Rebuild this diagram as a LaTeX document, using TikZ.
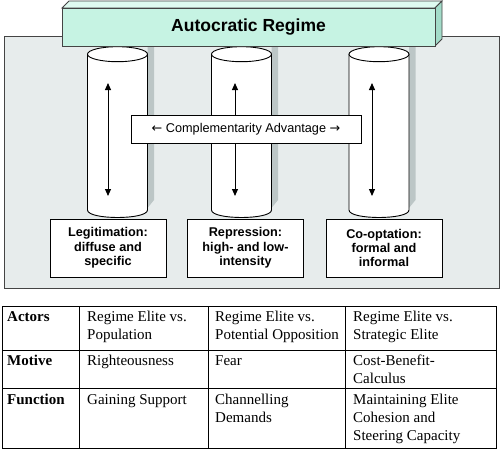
\documentclass[tikz,border=0pt]{standalone}
\usepackage{fontspec}
\setmainfont{Liberation Serif}
\setsansfont{Liberation Sans}
\newfontfamily\arrowfont{DejaVu Sans}
\usetikzlibrary{arrows.meta}
\definecolor{bgc}{HTML}{E7ECEC}
\definecolor{shadowc}{HTML}{BCC6C6}
\definecolor{beamfront}{HTML}{C6F3E3}
\definecolor{beamtop}{HTML}{DFFAF0}
\definecolor{beamside}{HTML}{A3DCC9}
\definecolor{framec}{HTML}{444444}
\tikzset{
  boxline/.style={draw=black, line width=0.9pt},
  labelbox/.style={boxline, fill=white, minimum width=116pt, minimum height=58pt, align=center, inner sep=0pt,
    font=\fontsize{12.7}{14.3}\selectfont\sffamily\bfseries},
  compbox/.style={boxline, fill=white, minimum width=230pt, minimum height=27.7pt, inner sep=0pt,
    font=\fontsize{12.7}{15}\selectfont\sffamily},
  dblarrow/.style={line width=1pt, {Triangle[length=7pt,width=6pt]}-{Triangle[length=7pt,width=6pt]}},
  cell/.style={anchor=north west, align=left, inner sep=0pt, font=\fontsize{15}{18}\selectfont\rmfamily},
  headcell/.style={cell, font=\fontsize{15}{18}\selectfont\rmfamily\bfseries},
  tabline/.style={draw=black, line width=0.9pt},
}
\begin{document}
\begin{tikzpicture}[x=1pt,y=-1pt]
\useasboundingbox (0,0) rectangle (500,450);
% background panel
\draw[fill=bgc, draw=framec, line width=0.9pt] (4,36) rectangle (499,288);
% cylinder shadows
\foreach \r in {147.5,271.5,409}{
  \fill[shadowc] (\r,45) -- (\r+6.5,45) -- (\r+6.5,200) -- (\r,208) -- cycle;
}
% cylinders
\foreach \cx in {117.5,241.5,379}{
  \draw[fill=white, line width=0.9pt] (\cx-30,54.2) -- (\cx-30,210)
     .. controls (\cx-30,220) and (\cx+30,220) .. (\cx+30,210) -- (\cx+30,54.2) -- cycle;
  \draw[fill=white, line width=0.9pt] (\cx,54.2) ellipse [x radius=30, y radius=7.5];
}
% arrows inside pillars
\coordinate (a1t) at (108,83);  \coordinate (a1b) at (108,196);
\coordinate (a2t) at (235,83);  \coordinate (a2b) at (235,196);
\coordinate (a3t) at (372,83);  \coordinate (a3b) at (372,196);
\draw[dblarrow] (a1t) -- (a1b);
\draw[dblarrow] (a2t) -- (a2b);
\draw[dblarrow] (a3t) -- (a3b);
% complementarity box
\node[compbox] (comp) at (246,129.2) {{\arrowfont ←} Complementarity Advantage {\arrowfont →}};
% label boxes
\node[labelbox] (legit) at (108,248) {Legitimation:\\diffuse and\\specific};
\node[labelbox] (repr) at (245.5,248) {Repression:\\high- and low-\\intensity};
\node[labelbox] (coopt) at (384,248) {Co-optation:\\formal and\\informal};
% beam
\draw[fill=beamtop, draw=framec, line width=0.9pt] (62,8) -- (69,1) -- (442,1) -- (435,8) -- cycle;
\draw[fill=beamside, draw=framec, line width=0.9pt] (435,8) -- (442,1) -- (442,39) -- (435,46) -- cycle;
\draw[fill=beamfront, draw=framec, line width=0.9pt] (62,8) rectangle (435,46);
\node[font=\fontsize{17.5}{20}\selectfont\sffamily\bfseries] (regime) at (248.5,27.5) {Autocratic Regime};
% table
\draw[tabline] (2,306.7) rectangle (496,448.3);
\draw[tabline] (2,350.7) -- (496,350.7);
\draw[tabline] (2,388.5) -- (496,388.5);
\draw[tabline] (79.7,306.7) -- (79.7,448.3);
\draw[tabline] (208,306.7) -- (208,448.3);
\draw[tabline] (345,306.7) -- (345,448.3);
\node[headcell] (h1) at (7,308.4) {\strut Actors};
\node[headcell] (h2) at (7,352.7) {\strut Motive};
\node[headcell] (h3) at (7,391.4) {\strut Function};
\node[cell] (c11) at (87,308.4) {\strut Regime Elite vs.\\Population};
\node[cell] (c12) at (215,308.4) {\strut Regime Elite vs.\\Potential Opposition};
\node[cell] (c13) at (353,308.4) {\strut Regime Elite vs.\\Strategic Elite};
\node[cell] (c21) at (87,352.7) {\strut Righteousness};
\node[cell] (c22) at (215,352.7) {\strut Fear};
\node[cell] (c23) at (353,352.7) {\strut Cost-Benefit-\\Calculus};
\node[cell] (c31) at (87,391.4) {\strut Gaining Support};
\node[cell] (c32) at (215,391.4) {\strut Channelling\\Demands};
\node[cell] (c33) at (353,391.4) {\strut Maintaining Elite\\Cohesion and\\Steering Capacity};
\end{tikzpicture}
\end{document}
